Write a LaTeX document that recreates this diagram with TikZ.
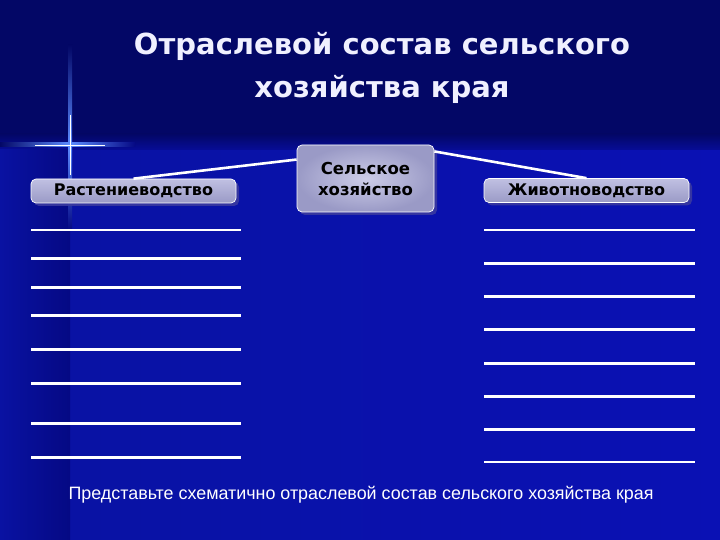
\documentclass[tikz,border=0pt]{standalone}
\usepackage{fontspec}
\setmainfont{DejaVu Sans}
\newfontfamily\bodyfont{Liberation Sans}
\usetikzlibrary{shadows,calc}
\definecolor{bgtop}{HTML}{030766}
\definecolor{bgleft}{HTML}{0912A2}
\definecolor{bgmid}{HTML}{050984}
\definecolor{bgright}{HTML}{0A11B4}
\definecolor{boxlight}{HTML}{C0C0E2}
\definecolor{boxdark}{HTML}{9A9AC6}
\definecolor{shadowc}{HTML}{3A3AA0}
\definecolor{glow}{HTML}{5C8CFF}
\tikzset{
  boxnode/.style={rounded corners=5pt, draw=white, line width=0.7pt,
    top color=boxlight, bottom color=boxdark, text=black,
    font=\bfseries\fontsize{16}{18}\selectfont, inner sep=0pt,
    drop shadow={shadow xshift=3pt, shadow yshift=-3pt, fill=shadowc, opacity=0.9}},
  conn/.style={white, line width=2.6pt},
  blank/.style={white, line width=2.6pt},
  titletext/.style={text=white!94!blue, font=\bfseries\fontsize{29}{43}\selectfont, align=center},
}
\begin{document}
\begin{tikzpicture}[x=1pt,y=-1pt]
\useasboundingbox (0,0) rectangle (720,540);
% background
\fill[bgtop] (0,0) rectangle (720,540);
\shade[left color=bgleft, middle color=bgmid, right color=bgright] (0,148) rectangle (720,540);
\shade[top color=bgtop, bottom color=bgmid!60!bgright] (0,134) rectangle (720,150);
\shade[left color=bgleft, right color=bgmid] (0,150) rectangle (70,540);
% star flare
\shade[left color=bgtop, right color=glow] (0,143) rectangle (70,147);
\shade[left color=glow, right color=bgmid] (70,143) rectangle (135,147);
\shade[top color=bgtop, bottom color=glow] (68,45) rectangle (72,145);
\shade[top color=glow, bottom color=bgmid] (68,145) rectangle (72,230);
\draw[white, line width=0.8pt] (35,145) -- (105,145);
\draw[white, line width=0.8pt] (70,115) -- (70,175);
% title
\node[titletext] (title) at (382,68) {Отраслевой состав сельского\\хозяйства края};
% boxes
\node[boxnode, minimum width=205pt, minimum height=24pt] (rast) at (133.5,191) {Растениеводство};
\node[boxnode, minimum width=137pt, minimum height=67pt, align=center, inner color=boxlight!80!white, outer color=boxdark, font=\bfseries\fontsize{16.5}{21}\selectfont] (selk) at (365.5,178.5) {Сельское\\хозяйство};
\node[boxnode, minimum width=205pt, minimum height=24pt] (zhiv) at (586.5,190.5) {Животноводство};
% connectors
\draw[conn] (rast.north) -- ($(selk.north west)!0.22!(selk.south west)$);
\draw[conn] ($(selk.north east)!0.1!(selk.south east)$) -- (zhiv.north);
% blank lines
\foreach \y in {230,258.3,287.3,315.3,349.3,383.3,423.3,457.3}
  \draw[blank] (31,\y) -- (241,\y);
\foreach \y in {230,263.3,296.3,329.3,363.7,396.3,429.3,462}
  \draw[blank] (484,\y) -- (695,\y);
% bottom text
\node[text=white, font=\bodyfont\fontsize{17.9}{20}\selectfont, anchor=west] (task) at (65,495) {Представьте схематично отраслевой состав сельского хозяйства края};
\end{tikzpicture}
\end{document}
